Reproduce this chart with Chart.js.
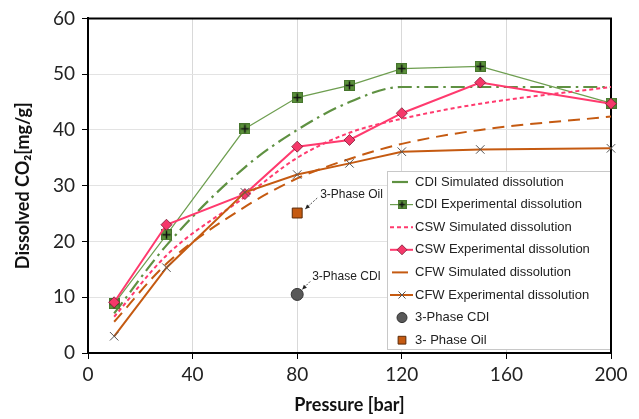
<!DOCTYPE html>
<html>
<head>
<meta charset="utf-8">
<script src="https://cdn.jsdelivr.net/npm/chart.js@4/dist/chart.umd.min.js"></script>
<style>
html,body{margin:0;padding:0;background:#fff;}
#wrap{width:639px;height:419px;}
</style>
</head>
<body>
<div id="wrap"><canvas id="c" width="639" height="419"></canvas></div>
<script>
// ---- data ----
const pressureExp = [10, 30, 60, 80, 100, 120, 150, 200];
const pressureSim = [10, 30, 60, 80, 100, 120, 150, 200];
const cdiSim = [7.1, 19.3, 33.3, 40.0, 45.0, 47.7, 47.7, 47.7];
const cdiExp = [8.8, 21.2, 40.2, 45.8, 48.0, 51.0, 51.4, 44.8];
const cswSim = [6.5, 17.5, 28.0, 35.0, 39.5, 42.0, 44.7, 47.7];
const cswExp = [9.1, 23.0, 28.5, 37.0, 38.2, 43.0, 48.5, 44.7];
const cfwSim = [5.6, 16.0, 26.2, 31.3, 34.8, 37.5, 40.0, 42.4];
const cfwExp = [3.0, 15.3, 28.8, 32.0, 34.0, 36.1, 36.5, 36.7];
const phase3CDI = [{x: 80, y: 10.5}];
const phase3Oil = [{x: 80, y: 25.1}];
const xTicks = [0, 40, 80, 120, 160, 200];
const yTicks = [0, 10, 20, 30, 40, 50, 60];
const seriesNames = ['CDI Simulated dissolution','CDI Experimental dissolution','CSW Simulated dissolution','CSW Experimental dissolution','CFW Simulated dissolution','CFW Experimental dissolution','3-Phase CDI','3- Phase Oil'];

const pts = (xs, ys) => xs.map((x, i) => ({x, y: ys[i]}));

const GREEN = '#5f9142', PINK = '#ff3a6e', ORANGE = '#c55a11', GRAY = '#595959';

// custom green square with plus marker
function makeSquarePlus(size){
  const c = document.createElement('canvas');
  c.width = size; c.height = size;
  const g = c.getContext('2d');
  g.fillStyle = '#5a8f3a'; g.fillRect(0,0,size,size);
  g.strokeStyle = '#46752d'; g.lineWidth = 1; g.strokeRect(0.5,0.5,size-1,size-1);
  g.strokeStyle = '#111'; g.lineWidth = 1.5;
  g.beginPath(); g.moveTo(size/2, 1.5); g.lineTo(size/2, size-1.5);
  g.moveTo(1.5, size/2); g.lineTo(size-1.5, size/2); g.stroke();
  return c;
}
const sqPlus = makeSquarePlus(11);
const sqPlusSmall = makeSquarePlus(9);

const datasets = [
  {label: seriesNames[0], data: pts(pressureSim, cdiSim), showLine: true, borderColor: GREEN, borderWidth: 2.2, borderDash: [14,5,2.5,5], pointRadius: 0, cubicInterpolationMode: 'monotone', order: 6},
  {label: seriesNames[1], data: pts(pressureExp, cdiExp), showLine: true, borderColor: '#6e9e50', borderWidth: 1.2, pointStyle: sqPlus, pointRadius: 5.5, order: 5},
  {label: seriesNames[2], data: pts(pressureSim, cswSim), showLine: true, borderColor: PINK, borderWidth: 2, borderDash: [4,3], pointRadius: 0, cubicInterpolationMode: 'monotone', order: 4},
  {label: seriesNames[3], data: pts(pressureExp, cswExp), showLine: true, borderColor: PINK, borderWidth: 2, pointStyle: 'rectRot', pointRadius: 5.5, pointBackgroundColor: '#f5386a', pointBorderColor: '#7a1c33', pointBorderWidth: 0.8, order: 3},
  {label: seriesNames[4], data: pts(pressureSim, cfwSim), showLine: true, borderColor: ORANGE, borderWidth: 2, borderDash: [12,7], pointRadius: 0, cubicInterpolationMode: 'monotone', order: 2},
  {label: seriesNames[5], data: pts(pressureExp, cfwExp), showLine: true, borderColor: ORANGE, borderWidth: 2, pointStyle: 'crossRot', pointRadius: 6, pointBorderColor: '#555', pointBorderWidth: 1, order: 1},
  {label: seriesNames[6], data: phase3CDI, showLine: false, pointStyle: 'circle', pointRadius: 6, pointBackgroundColor: GRAY, pointBorderColor: '#333', pointBorderWidth: 1, order: 0},
  {label: seriesNames[7], data: phase3Oil, showLine: false, pointStyle: 'rect', pointRadius: 7, pointBackgroundColor: ORANGE, pointBorderColor: '#5a2a08', pointBorderWidth: 1, order: 0}
];
datasets.forEach(d => { d.clip = false; d.fill = false; });
const legendRadius = [0, 4.5, 0, 5, 0, 5, 5, 5.5];

const framePlugin = {
  id: 'frame',
  beforeDatasetsDraw(chart){
    const {ctx, chartArea: a} = chart;
    ctx.save();
    ctx.strokeStyle = '#000'; ctx.lineWidth = 2;
    ctx.beginPath();
    ctx.moveTo(a.left, a.top); ctx.lineTo(a.right, a.top); ctx.lineTo(a.right, a.bottom);
    ctx.stroke();
    ctx.restore();
  }
};

const annotPlugin = {
  id: 'annot',
  afterDatasetsDraw(chart){
    const {ctx, scales: {x, y}} = chart;
    ctx.save();
    ctx.font = '12px "Liberation Sans", Arial, sans-serif';
    ctx.fillStyle = '#222';
    ctx.textBaseline = 'middle';
    function arrow(x1, y1, x2, y2){
      ctx.strokeStyle = '#222'; ctx.lineWidth = 0.8;
      ctx.setLineDash([2,1.5]);
      ctx.beginPath(); ctx.moveTo(x1,y1); ctx.lineTo(x2,y2); ctx.stroke();
      ctx.setLineDash([]);
      const ang = Math.atan2(y2-y1, x2-x1), L = 5;
      ctx.fillStyle = '#222';
      ctx.beginPath(); ctx.moveTo(x2,y2);
      ctx.lineTo(x2 - L*Math.cos(ang-0.45), y2 - L*Math.sin(ang-0.45));
      ctx.lineTo(x2 - L*Math.cos(ang+0.45), y2 - L*Math.sin(ang+0.45));
      ctx.closePath(); ctx.fill();
    }
    const ox = x.getPixelForValue(phase3Oil[0].x), oy = y.getPixelForValue(phase3Oil[0].y);
    ctx.fillText('3-Phase Oil', ox + 23, oy - 18);
    arrow(ox + 20, oy - 15, ox + 8, oy - 4);
    const cx = x.getPixelForValue(phase3CDI[0].x), cy = y.getPixelForValue(phase3CDI[0].y);
    ctx.fillText('3-Phase CDI', cx + 15, cy - 18);
    arrow(cx + 13, cy - 13, cx + 5, cy - 5);
    ctx.restore();
  }
};

const legendPlugin = {
  id: 'customLegend',
  afterDraw(chart){
    const ctx = chart.ctx;
    const L = 387, T = 171, W = 223, H = 178, rowH = 22.6, first = 182;
    ctx.save();
    ctx.fillStyle = '#fff';
    ctx.fillRect(L, T, W, H);
    ctx.strokeStyle = '#c8c8c8'; ctx.lineWidth = 1;
    ctx.strokeRect(L + 0.5, T + 0.5, W, H);
    // re-draw right border of the plot over the legend edge
    const a = chart.chartArea;
    ctx.strokeStyle = '#000'; ctx.lineWidth = 2;
    ctx.beginPath(); ctx.moveTo(a.right, T); ctx.lineTo(a.right, a.bottom); ctx.stroke();
    ctx.font = '13px "Liberation Sans", Arial, sans-serif';
    ctx.textBaseline = 'middle';
    const sx1 = 390, sx2 = 413, mx = 402, tx = 415;
    chart.data.datasets.forEach((d, i) => {
      const yy = first + i * rowH;
      if (d.showLine) {
        ctx.strokeStyle = d.borderColor; ctx.lineWidth = d.borderWidth;
        const simple = !d.pointRadius;
        ctx.setLineDash(simple && i === 2 ? [4,3] : []);
        ctx.beginPath();
        if (simple && i !== 2) { ctx.moveTo(sx1 + 2, yy); ctx.lineTo(sx2 - 5, yy); }
        else { ctx.moveTo(sx1, yy); ctx.lineTo(sx2, yy); }
        ctx.stroke(); ctx.setLineDash([]);
      }
      if (d.pointRadius) {
        const ps = d.pointStyle === sqPlus ? sqPlusSmall : d.pointStyle;
        const opts = {pointStyle: ps, radius: legendRadius[i], rotation: 0, borderWidth: d.pointBorderWidth || 1};
        ctx.fillStyle = d.pointBackgroundColor || '#000';
        ctx.strokeStyle = d.pointBorderColor || '#000';
        ctx.lineWidth = d.pointBorderWidth || 1;
        Chart.helpers.drawPoint(ctx, opts, mx, yy);
      }
      ctx.fillStyle = '#222';
      ctx.fillText(d.label, tx, yy);
    });
    ctx.restore();
  }
};

const tickFont = {family: 'Lato, "Open Sans", sans-serif', size: 19};
new Chart(document.getElementById('c'), {
  type: 'scatter',
  data: {datasets},
  options: {
    responsive: false,
    animation: false,
    layout: {padding: {left: 0, right: 28, top: 15, bottom: 0}},
    plugins: {legend: {display: false}, tooltip: {enabled: false}},
    scales: {
      x: {
        type: 'linear', min: 0, max: 200,
        afterBuildTicks(s){ s.ticks = xTicks.map(v => ({value: v})); },
        afterFit(s){ s.height = 66; },
        grid: {color: '#d9d9d9', tickColor: '#000', tickLength: 6, lineWidth: 1},
        border: {color: '#000', width: 2},
        ticks: {font: tickFont, color: '#222', padding: 4, maxRotation: 0},
        title: {display: true, text: 'Pressure [bar]', font: {family: 'Lato, "Open Sans", sans-serif', size: 18, weight: 'bold'}, color: '#111', padding: {top: 0, bottom: 3}}
      },
      y: {
        min: 0, max: 60,
        afterBuildTicks(s){ s.ticks = yTicks.map(v => ({value: v})); },
        afterFit(s){ s.width = 88; },
        grid: {color: '#e3e3e3', tickColor: '#000', tickLength: 6, lineWidth: 1},
        border: {color: '#000', width: 2},
        ticks: {font: tickFont, color: '#222', padding: 7},
        title: {display: true, text: 'Dissolved CO₂[mg/g]', font: {family: 'Lato, "Open Sans", sans-serif', size: 18, weight: 'bold'}, color: '#111', padding: {top: 12, bottom: 0}}
      }
    }
  },
  plugins: [framePlugin, annotPlugin, legendPlugin]
});
</script>
</body>
</html>
